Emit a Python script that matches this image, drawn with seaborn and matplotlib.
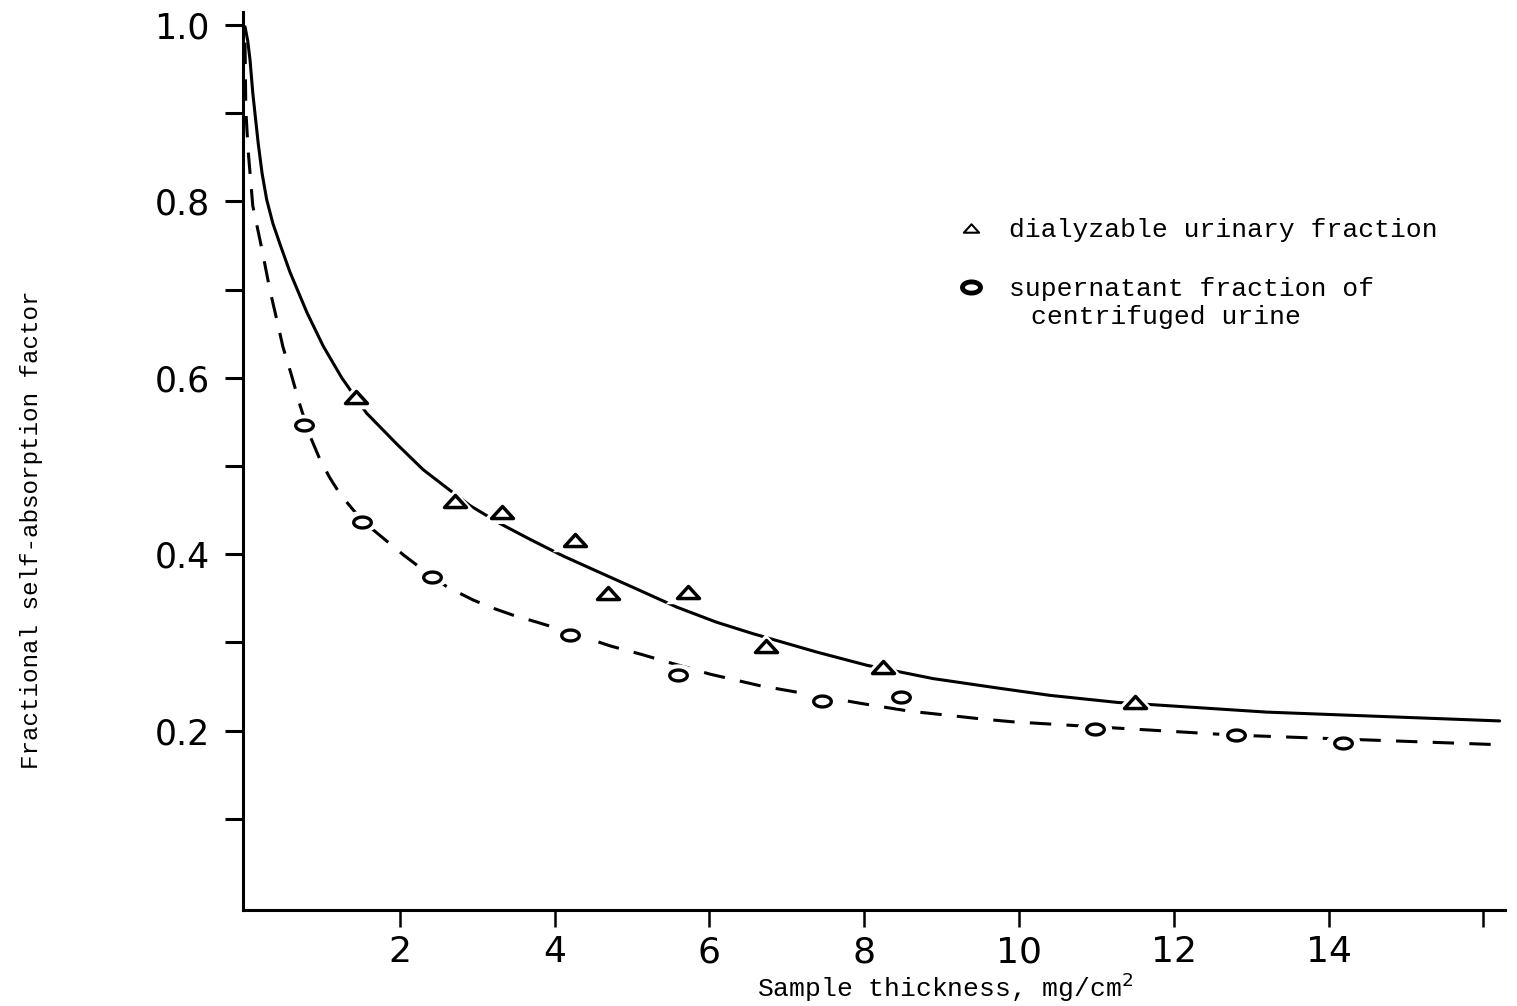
import numpy as np
import pandas as pd
import matplotlib
matplotlib.use("Agg")
import matplotlib.pyplot as plt
from matplotlib.path import Path
from matplotlib.lines import Line2D
import seaborn as sns

# ---------------- data ----------------
dial_x = [1.43, 2.71, 3.32, 4.26, 4.69, 5.72, 6.73, 8.24, 11.50]
dial_y = [0.578, 0.460, 0.448, 0.416, 0.356, 0.357, 0.296, 0.272, 0.233]

sup_x = [0.76, 1.51, 2.41, 4.20, 5.59, 7.46, 8.48, 10.98, 12.81, 14.19]
sup_y = [0.546, 0.437, 0.374, 0.308, 0.263, 0.234, 0.238, 0.202, 0.195, 0.186]

dial_curve_x = [0.0, 0.035, 0.065, 0.10, 0.17, 0.22, 0.28, 0.36, 0.45, 0.58, 0.80,
                1.01, 1.25, 1.57, 1.96, 2.30, 2.61, 2.91, 3.29, 3.68, 4.11, 4.54,
                5.10, 5.58, 6.09, 6.56, 7.39, 8.04, 8.89, 9.75, 10.40, 11.27, 13.20,
                16.21]
dial_curve_y = [0.998, 0.982, 0.960, 0.923, 0.866, 0.832, 0.802, 0.775, 0.752, 0.720,
                0.674, 0.636, 0.600, 0.560, 0.525, 0.496, 0.475, 0.455, 0.435, 0.417,
                0.398, 0.381, 0.359, 0.340, 0.323, 0.310, 0.289, 0.274, 0.259, 0.248,
                0.240, 0.232, 0.221, 0.211]

sup_curve_x = [0.0, 0.01, 0.04, 0.10, 0.22, 0.32, 0.41, 0.49, 0.60, 0.71, 0.84,
               0.97, 1.10, 1.23, 1.40, 1.61, 1.83, 2.05, 2.26, 2.61, 2.95, 3.20,
               3.46, 3.77, 4.11, 4.72, 5.14, 5.45, 6.01, 6.65, 7.17, 7.95, 8.59,
               9.02, 9.54, 9.92, 12.76, 16.21]
sup_curve_y = [0.980, 0.904, 0.858, 0.795, 0.745, 0.700, 0.666, 0.635, 0.603, 0.569,
               0.534, 0.507, 0.486, 0.468, 0.450, 0.431, 0.415, 0.399, 0.385, 0.363,
               0.348, 0.339, 0.331, 0.323, 0.314, 0.296, 0.286, 0.278, 0.264, 0.251,
               0.243, 0.231, 0.222, 0.218, 0.213, 0.210, 0.195, 0.184]

x_tick_values = [2, 4, 6, 8, 10, 12, 14]
x_tick_labels = ["2", "4", "6", "8", "10", "12", "14"]
x_minor_ticks = [16]
y_tick_values = [0.2, 0.4, 0.6, 0.8, 1.0]
y_tick_labels = ["0.2", "0.4", "0.6", "0.8", "1.0"]
y_minor_ticks = [0.1, 0.3, 0.5, 0.7, 0.9]

x_label = "Sample thickness, mg/cm$^2$"
y_label = "Fractional self-absorption factor"
legend_labels = ["dialyzable urinary fraction", "supernatant fraction of",
                 "centrifuged urine"]

# ---------------- style ----------------
sns.set_theme(style="ticks")
plt.rcParams["font.family"] = ["DejaVu Sans"]
MONO = "Liberation Mono"

tri_marker = Path([(-1, -0.55), (1, -0.55), (0, 0.55), (-1, -0.55)],
                  [Path.MOVETO, Path.LINETO, Path.LINETO, Path.CLOSEPOLY])
_t = np.linspace(0, 2 * np.pi, 40)
ell_marker = Path(np.column_stack([np.cos(_t), 0.62 * np.sin(_t)]), closed=True)

fig = plt.figure(figsize=(15.17, 10.06), dpi=100)
fig.patch.set_facecolor("white")
ax = fig.add_axes([0.1602, 0.0954, 0.8319, 0.8926])
ax.set_facecolor("white")

# curves
sns.lineplot(x=dial_curve_x, y=dial_curve_y, ax=ax, color="black", lw=2.2,
             sort=False, estimator=None, zorder=2)
sns.lineplot(x=sup_curve_x, y=sup_curve_y, ax=ax, color="black", lw=2.2,
             sort=False, estimator=None, linestyle=(0, (7, 5)), zorder=2)

# white halos that break the curves around the symbols
sns.scatterplot(x=dial_x, y=dial_y, ax=ax, marker=tri_marker, s=1000,
                color="white", edgecolor="none", linewidth=0, zorder=3)
sns.scatterplot(x=sup_x, y=sup_y, ax=ax, marker=ell_marker, s=620,
                color="white", edgecolor="none", linewidth=0, zorder=3)

# symbols
sns.scatterplot(x=dial_x, y=dial_y, ax=ax, marker=tri_marker, s=250,
                color="white", edgecolor="black", linewidth=2.5, zorder=4)
sns.scatterplot(x=sup_x, y=sup_y, ax=ax, marker=ell_marker, s=160,
                color="white", edgecolor="black", linewidth=2.4, zorder=4)

# axes
ax.set_xlim(-0.026, 16.28)
ax.set_ylim(-0.0034, 1.0147)
ax.set_xticks(x_tick_values)
ax.set_xticklabels(x_tick_labels)
ax.set_xticks(x_minor_ticks, minor=True)
ax.set_yticks(y_tick_values)
ax.set_yticklabels(y_tick_labels)
ax.set_yticks(y_minor_ticks, minor=True)
ax.tick_params(axis="y", which="both", direction="out", length=13, width=2.2,
               pad=11, labelsize=25, colors="black")
ax.tick_params(axis="x", which="both", direction="out", length=12, width=1.8,
               pad=6, labelsize=26, colors="black")
for side in ["top", "right"]:
    ax.spines[side].set_visible(False)
for side in ["left", "bottom"]:
    ax.spines[side].set_linewidth(2.2)
    ax.spines[side].set_color("black")
ax.grid(False)

ax.set_xlabel(x_label, family=MONO, fontsize=19, color="black")
ax.xaxis.label.set_va("center")
ax.xaxis.set_label_coords(0.556, -0.0865)
ax.set_ylabel(y_label, family=MONO, fontsize=17.5, color="black")
ax.yaxis.label.set_va("center")
ax.yaxis.set_label_coords(-0.1674, 0.423)

# legend
h_tri = Line2D([], [], ls="none", marker=tri_marker, ms=11, mfc="white",
               mec="black", mew=1.5)
h_ell = Line2D([], [], ls="none", marker=ell_marker, ms=13, mfc="white",
               mec="black", mew=3.5)
leg = ax.legend([h_tri, h_ell], legend_labels[:2], loc="upper left",
                bbox_to_anchor=(0.5667, 0.7705), frameon=False,
                prop=dict(family=MONO, size=19), handlelength=1.0,
                handletextpad=0.93, labelspacing=1.33, borderpad=0,
                borderaxespad=0)
for t in leg.get_texts():
    t.set_color("black")
ax.text(0.6246, 0.6604, legend_labels[2], transform=ax.transAxes,
        family=MONO, fontsize=19, va="center", ha="left", color="black")

fig.savefig("out.png", dpi=100, facecolor="white")
